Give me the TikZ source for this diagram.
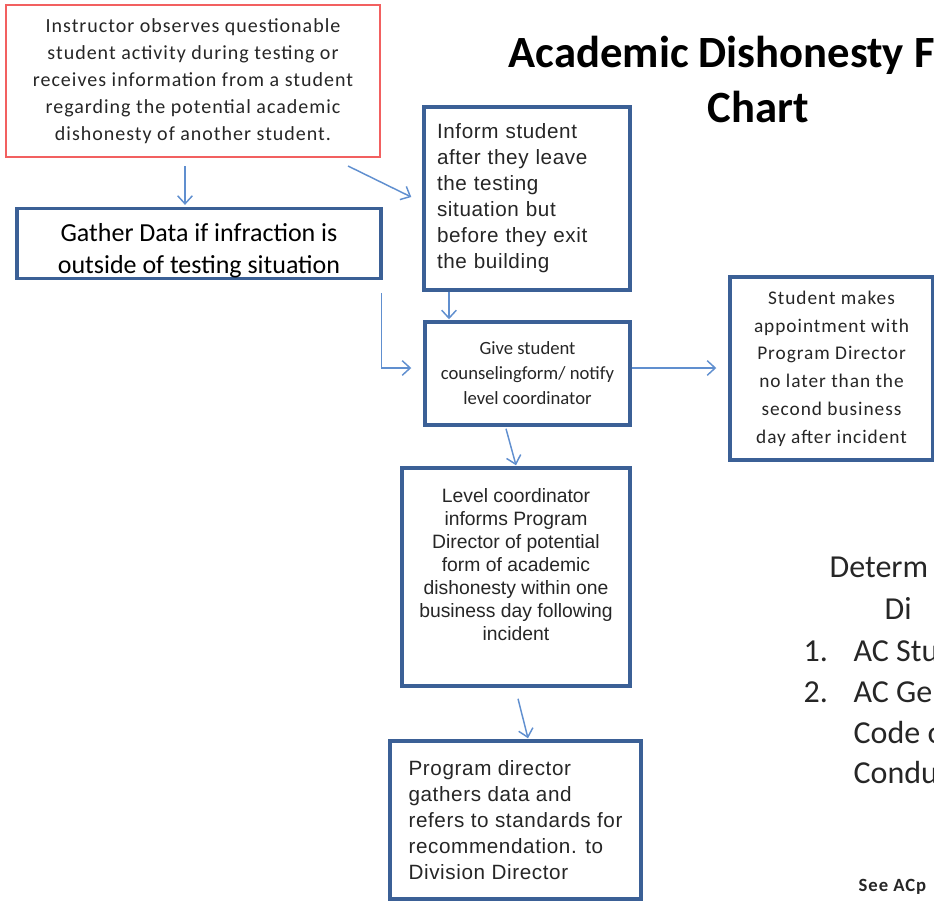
\documentclass[tikz,border=0pt]{standalone}
\usepackage{fontspec}
\setmainfont{Carlito}
\newfontfamily\arialfont{Liberation Sans}
\newfontfamily\spacedcal[LetterSpace=5]{Carlito}
\newfontfamily\spacedarial[LetterSpace=3]{Liberation Sans}
\usetikzlibrary{arrows.meta, positioning, calc}
\definecolor{boxblue}{RGB}{59,96,150}
\definecolor{flowblue}{RGB}{96,143,207}
\definecolor{alertred}{RGB}{242,96,96}
\definecolor{txtgray}{RGB}{38,38,38}

\begin{document}
\begin{tikzpicture}[x=0.75pt, y=-0.75pt, line width=1pt,
				Box/.style={
				draw=boxblue,
				line width=2.6pt,
				fill=white,
				inner sep=0pt,
				text=txtgray},
				Flow/.style={
				draw=flowblue,
				line width=1.1pt,
				-{Straight Barb[length=6pt, width=11pt]}},
				Side/.style={
				anchor=base west,
				inner sep=0pt,
				text=txtgray,
				font=\fontsize{24}{31}\selectfont}
				]
				\useasboundingbox (0,0) rectangle (934,901);
				\clip (0,0) rectangle (934,901);
				% Title
				\node[anchor=base west, inner sep=0pt, font=\bfseries\fontsize{33.5}{42}\selectfont] (title) at (508,67) {Academic Dishonesty Flow};
				\node[anchor=base, inner sep=0pt, font=\bfseries\fontsize{33.5}{42}\selectfont] (chart) at (758,122) {Chart};
				% Boxes
				\node[Box, draw=alertred, line width=1.5pt, minimum width=280.5pt, minimum height=114pt,
					align=center, font=\spacedcal\fontsize{15}{20.3}\selectfont] (src) at (193,81)
					{Instructor observes questionable\\student activity during testing or\\receives information from a student\\regarding the potential academic\\dishonesty of another student.};
				\node[Box, minimum width=273pt, minimum height=50.25pt, text=black,
					align=center, font=\fontsize{19.5}{24}\selectfont] (gather) at (199,243.5)
					{\rule{0pt}{25pt}Gather Data if infraction is\\outside of testing situation};
				\node[Box, minimum width=154.5pt, minimum height=137.25pt, text width=135pt,
					align=left, font=\spacedarial\fontsize{15.5}{19.5}\selectfont] (inform) at (527,198.5)
					{Inform student\\after they leave\\the testing\\situation but\\before they exit\\the building};
				\node[Box, minimum width=153.75pt, minimum height=77.25pt,
					align=center, font=\fontsize{14}{18.7}\selectfont] (give) at (527.5,373.5)
					{Give student\\counselingform/ notify\\level coordinator};
				\node[Box, minimum width=152.25pt, minimum height=137.25pt,
					align=center, font=\spacedcal\fontsize{14.5}{20.8}\selectfont] (appoint) at (831.5,368.5)
					{Student makes\\appointment with\\Program Director\\no later than the\\second business\\day after incident};
				\node[Box, minimum width=171pt, minimum height=163.5pt,
					align=center, font=\arialfont\fontsize{14.5}{17.25}\selectfont] (level) at (516,577)
					{Level coordinator\\informs Program\\Director of potential\\form of academic\\dishonesty within one\\business day following\\incident\\[2pt]};
				\node[Box, minimum width=188.25pt, minimum height=118.5pt,
					align=left, font=\spacedarial\fontsize{15.5}{19.5}\selectfont] (prog) at (515.5,820)
					{Program director\\gathers data and\\refers to standards for\\recommendation. to\\Division Director};
				% Right hand text
				\node[Side] (det) at (829,577) {Determ};
				\node[Side] (detb) at (884,619) {Di};
				\node[Side] (num1) at (803,661) {1.};
				\node[Side] (itm1) at (853,661) {AC Stu};
				\node[Side] (num2) at (803,702) {2.};
				\node[Side] (itm2) at (853,702) {AC Ge};
				\node[Side] (itm2b) at (853,743) {Code o};
				\node[Side] (itm2c) at (853,783) {Condu};
				\node[Side, font=\bfseries\spacedcal\fontsize{14}{16}\selectfont] (note) at (858,891) {See ACp};
				% Connectors
				\draw[Flow] ([shift={(-8,8)}]src.south) -- ([shift={(-14,-2)}]gather.north);
				\draw[Flow] ([shift={(-33,8)}]src.south east) -- ([shift={(-11,-1.5)}]inform.west);
				\draw[Flow] ([shift={(-78,0)}]inform.south) -- ([shift={(-78.5,-1)}]give.north);
				\draw[Flow] ([shift={(-1,13)}]gather.south east) |- ([shift={(-12,-5.5)}]give.west);
				\draw[Flow] ([shift={(0,-5.5)}]give.east) -- ([shift={(-12,-0.5)}]appoint.west);
				\draw[Flow] ([shift={(-21.5,2)}]give.south) -- ([shift={(0,-1)}]level.north);
				\draw[Flow] ([shift={(2,11)}]level.south) -- ([shift={(12.5,-1)}]prog.north);
\end{tikzpicture}
\end{document}
